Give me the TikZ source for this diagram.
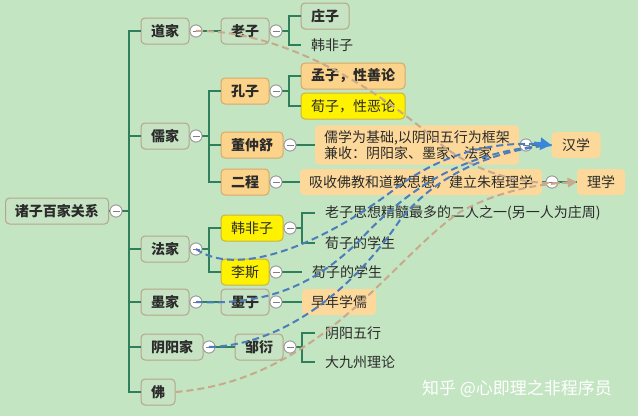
\documentclass[tikz,border=0pt]{standalone}
\usepackage{fontspec}
\setmainfont{Noto Sans CJK SC}
\usetikzlibrary{arrows.meta}
\definecolor{bg}{HTML}{C3E5C2}
\definecolor{treeg}{HTML}{2F7F5C}
\definecolor{boxline}{HTML}{B5A58C}
\definecolor{plainf}{HTML}{C6E4C3}
\definecolor{orangef}{HTML}{FBD38A}
\definecolor{oline}{HTML}{D8A86A}
\definecolor{yellowf}{HTML}{FFF200}
\definecolor{yline}{HTML}{C9B43E}
\definecolor{notef}{HTML}{FCD99A}
\definecolor{txt}{HTML}{2B2B2B}
\definecolor{bluedash}{HTML}{4C7DBE}
\definecolor{arrowblue}{HTML}{3A86D8}
\definecolor{tandash}{HTML}{C8A98C}
\tikzset{
  box/.style={draw=boxline, line width=1pt, rounded corners=4pt, fill=plainf,
    minimum height=26, inner xsep=4, text=txt,
    font=\fontsize{14}{16}\selectfont\bfseries},
  obox/.style={box, fill=orangef, draw=oline},
  ybox/.style={box, fill=yellowf, draw=yline, font=\fontsize{14}{16}\selectfont},
  note/.style={fill=notef, rounded corners=4pt, inner xsep=8, inner ysep=5,
    minimum height=26, text=txt, font=\fontsize{14}{16}\selectfont, align=left},
  plain/.style={inner xsep=10, inner ysep=3, text=txt, anchor=west,
    font=\fontsize{14}{16}\selectfont},
  circ/.style={circle, draw=gray!80, fill=white, line width=0.8pt, minimum size=12, inner sep=0,
    path picture={\draw[gray, line width=1pt] ([xshift=-3.5pt]path picture bounding box.center) -- ([xshift=3.5pt]path picture bounding box.center);}},
  tree/.style={draw=treeg, line width=2pt},
  bdash/.style={draw=bluedash, line width=2pt, dash pattern=on 7pt off 4pt},
  tdash/.style={draw=tandash, line width=2pt, dash pattern=on 7pt off 4pt}
}
\begin{document}
\begin{tikzpicture}[x=1pt,y=-1pt]
\fill[bg] (0,0) rectangle (638,416);
\useasboundingbox (0,0) rectangle (638,416);

% root
\node[box, minimum width=103] (root) at (57,211) {诸子百家关系};
\node[circ] (c0) at (116,211) {};

% level 1
\node[box, minimum width=48] (dao) at (165,31) {道家};
\node[circ] (cdao) at (196,31) {};
\node[box, minimum width=48] (ru) at (165,136) {儒家};
\node[circ] (cru) at (196,136) {};
\node[box, minimum width=48] (fa) at (165,249) {法家};
\node[circ] (cfa) at (196,249) {};
\node[box, minimum width=48] (mo) at (165,302) {墨家};
\node[circ] (cmo) at (196,302) {};
\node[box, minimum width=62] (yy) at (172,347) {阴阳家};
\node[circ] (cyy) at (209,347) {};
\node[box, minimum width=34] (fo) at (158,392) {佛};

% dao
\node[box, minimum width=48] (laozi) at (245,31) {老子};
\node[circ] (claozi) at (276,31) {};
\node[box, minimum width=48] (zhuangzi) at (325,16) {庄子};
\node[plain] (hanfeiA) at (301,45) {韩非子};

% ru
\node[obox, minimum width=48] (kongzi) at (245,91) {孔子};
\node[circ] (ckongzi) at (276,91) {};
\node[obox, minimum width=104] (mengzi) at (353,76) {孟子，性善论};
\node[ybox, minimum width=104] (xunzi) at (353,106) {荀子，性恶论};
\node[obox, minimum width=62] (dong) at (252,145) {董仲舒};
\node[circ] (cdong) at (290,145) {};
\node[note, minimum width=204] (dongnote) at (417,145) {儒学为基础,以阴阳五行为框架\\兼收：阴阳家、墨家、法家};
\node[circ] (cdongnote) at (526,145) {};
\node[note, minimum width=49] (hanxue) at (576,145) {汉学};
\node[obox, minimum width=48] (erc) at (245,182) {二程};
\node[circ] (cerc) at (276,182) {};
\node[note, minimum width=242] (ercnote) at (421,182) {吸收佛教和道教思想，建立朱程理学};
\node[circ] (cercnote) at (552,182) {};
\node[note, minimum width=48] (lixue) at (601,182) {理学};

% fa
\node[ybox, minimum width=62] (hanfei) at (252,228) {韩非子};
\node[circ] (chanfei) at (290,228) {};
\node[plain] (hf1) at (315,213) {老子思想精髓最多的二人之一(另一人为庄周)};
\node[plain] (hf2) at (315,243) {荀子的学生};
\node[ybox, minimum width=48] (lisi) at (245,272) {李斯};
\node[circ] (clisi) at (276,272) {};
\node[plain] (ls1) at (302,272) {荀子的学生};

% mo
\node[box, minimum width=48] (mozi) at (245,302) {墨子};
\node[circ] (cmozi) at (276,302) {};
\node[note, minimum width=74] (mozinote) at (339,302) {早年学儒};

% yinyang
\node[box, minimum width=48] (zou) at (259,347) {邹衍};
\node[circ] (czou) at (290,347) {};
\node[plain] (z1) at (315,333) {阴阳五行};
\node[plain] (z2) at (315,362) {大九州理论};

% tree connectors
\draw[tree] (root) -- (c0);
\foreach \n/\c in {dao/cdao, ru/cru, fa/cfa, mo/cmo, yy/cyy, laozi/claozi, kongzi/ckongzi, dong/cdong, erc/cerc, hanfei/chanfei, lisi/clisi, mozi/cmozi, zou/czou, dongnote/cdongnote, ercnote/cercnote}
  \draw[tree] (\n.east) -- (\c.west);
\foreach \t in {dao, ru, fa, mo, yy, fo}
  \draw[tree] (c0.east) -- ++(7,0) |- (\t.west);
\draw[tree] (cdao.east) -- (laozi.west);
\foreach \t in {zhuangzi, hanfeiA}
  \draw[tree] (claozi.east) -- ++(7,0) |- (\t.west);
\foreach \t in {kongzi, dong, erc}
  \draw[tree] (cru.east) -- ++(7,0) |- (\t.west);
\foreach \t in {mengzi, xunzi}
  \draw[tree] (ckongzi.east) -- ++(7,0) |- (\t.west);
\draw[tree] (cdong.east) -- (dongnote.west);
\draw[tree] (cerc.east) -- (ercnote.west);
\draw[tree] (cdongnote.east) -- (hanxue.west);
\draw[tree] (cercnote.east) -- (lixue.west);
\foreach \t in {hanfei, lisi}
  \draw[tree] (cfa.east) -- ++(7,0) |- (\t.west);
\foreach \t in {hf1, hf2}
  \draw[tree] (chanfei.east) -- ++(6,0) |- (\t.west);
\draw[tree] (clisi.east) -- (ls1.west);
\draw[tree] (cmo.east) -- (mozi.west);
\draw[tree] (cmozi.east) -- (mozinote.west);
\draw[tree] (cyy.east) -- (zou.west);
\foreach \t in {z1, z2}
  \draw[tree] (czou.east) -- ++(6,0) |- (\t.west);

% redraw circles above connectors
\foreach \c in {c0,cdao,cru,cfa,cmo,cyy,claozi,ckongzi,cdong,cerc,chanfei,clisi,cmozi,czou,cdongnote,cercnote}
  \node[circ] at (\c) {};

% relation curves
\draw[tdash, -{Triangle[length=9,width=9]}] (cdao.center) .. controls (265,30) and (350,68) .. (430,135) .. controls (470,172) and (520,186) .. (lixue.west);
\draw[tdash, -{Triangle[length=9,width=9]}] (fo.east) .. controls (320,380) and (390,260) .. (460,212) .. controls (500,190) and (540,184) .. (lixue.west);
\draw[bdash] (cfa.center) .. controls (240,280) and (330,240) .. (400,185) .. controls (450,150) and (500,140) .. (hanxue.west);
\draw[bdash] (cmo.center) .. controls (260,305) and (310,290) .. (360,240) .. controls (420,175) and (480,150) .. (hanxue.west);
\draw[bdash] (cyy.center) .. controls (290,345) and (360,280) .. (400,220) .. controls (440,170) and (500,150) .. (hanxue.west);
\draw[draw=arrowblue, line width=3pt, -{Triangle[length=11,width=12]}] (534,143) -- (hanxue.west);

% watermark
\node[text=white, font=\fontsize{17}{19}\selectfont] (wm) at (517,389) {知乎 @心即理之非程序员};
\end{tikzpicture}
\end{document}
